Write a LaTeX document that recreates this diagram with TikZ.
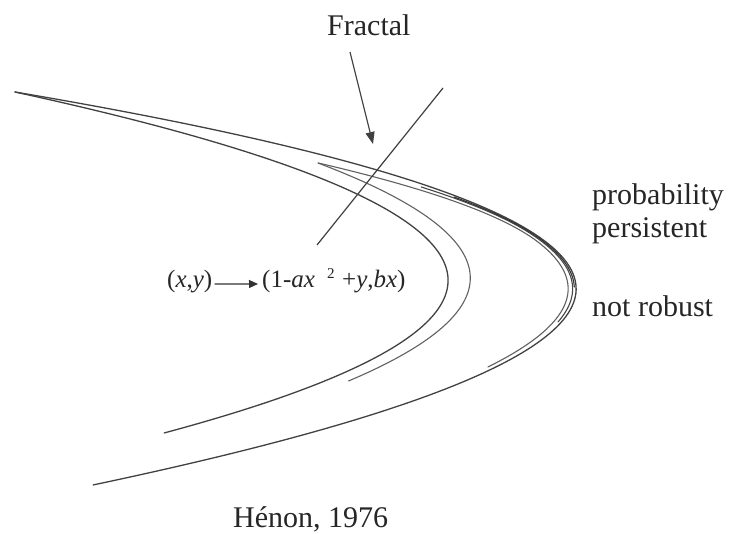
\documentclass[tikz,border=0pt]{standalone}
\usepackage{fontspec}
\setmainfont{Liberation Serif}
\usetikzlibrary{arrows.meta}
\begin{document}
\begin{tikzpicture}[x=1pt,y=-1pt,
  strand/.style={line width=1.3pt, draw=black!74, line cap=round, line join=round},
  thinstrand/.style={line width=1.1pt, draw=black!62, line cap=round},
  lbl/.style={anchor=base west, inner sep=0pt, font=\fontsize{30}{34}\selectfont, text=black!85},
  fml/.style={anchor=base west, inner sep=0pt, font=\fontsize{25}{28}\selectfont, text=black!85}]
\fill[white] (0,0) rectangle (729,534);
\useasboundingbox (0,0) rectangle (729,534);

% outer strand  (u = t/100, y = 292 + 100u)
\draw[strand] plot[domain=-2:1.93, samples=120, variable=\u]
  ({576 - 134.72*\u*\u - 8.53*\u + 4.897*\u*\u*\u}, {292 + 100*\u});
% outer companions (bundle)
\draw[thinstrand] plot[domain=-1.29:0.75, samples=90, variable=\u]
  ({576 - 134.72*\u*\u - 8.53*\u + 4.897*\u*\u*\u - 8 - 41.7*max(0,-0.5-\u)^2}, {292 + 100*\u});
\draw[thinstrand, draw=black!72] plot[domain=-1.05:0.3, samples=60, variable=\u]
  ({576 - 134.72*\u*\u - 8.53*\u + 4.897*\u*\u*\u - 3.5 - 30*max(0,-0.6-\u)^2}, {292 + 100*\u});
\draw[thinstrand, draw=black!80] plot[domain=-0.95:-0.05, samples=40, variable=\u]
  ({576 - 134.72*\u*\u - 8.53*\u + 4.897*\u*\u*\u - 1.8 - 20*max(0,-0.6-\u)^2}, {292 + 100*\u});
% innermost strand
\draw[strand] plot[domain=-1.91:1.5, samples=110, variable=\u]
  ({448 - 122*\u*\u - 6.3*\u}, {283 + 100*\u});
% second inner strand (from the fold)
\draw[thinstrand] plot[domain=-1.2:0.98, samples=90, variable=\u]
  ({470 - 115*\u*\u - 11.3*\u}, {283 + 100*\u});

% diagonal line
\draw[line width=1.2pt, draw=black!75] (317,245) -- (443,88);

% labels
\node[lbl] (fr) at (327,36) {Fractal};
\coordinate (ft) at (373,144);
\draw[line width=1.1pt, draw=black!75, -{Triangle[length=12pt,width=9pt]}] (350,52) -- (ft);

\node[lbl] (pr) at (592,205) {probability};
\node[lbl] (pe) at (592,238) {persistent};
\node[lbl] (nr) at (592,317) {not robust};
\node[lbl] (he) at (233,528) {Hénon, 1976};

\node[fml] (f1) at (167,288) {(\textit{x},\textit{y})};
\node[fml] (f2) at (262,288) {(1-\textit{ax}};
\node[anchor=base west, inner sep=0pt, font=\fontsize{15}{17}\selectfont, text=black!85] (f3) at (327,279) {2};
\node[fml] (f4) at (342,288) {+\textit{y},\textit{bx})};
\draw[line width=1.1pt, draw=black!80, -{Triangle[length=9pt,width=8pt]}] ([xshift=2pt,yshift=-2pt]f1.east) -- ([xshift=-4pt,yshift=-2pt]f2.west);
\end{tikzpicture}
\end{document}
